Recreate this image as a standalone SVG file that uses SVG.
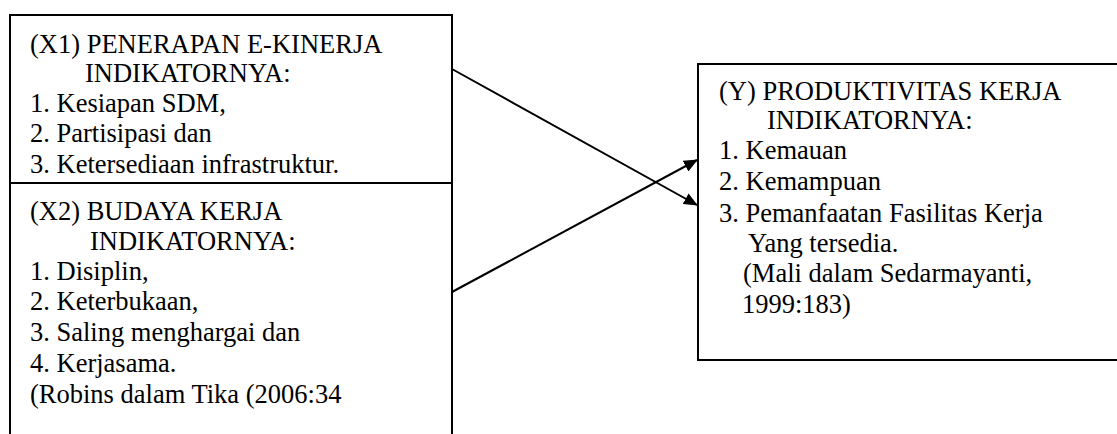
<svg xmlns="http://www.w3.org/2000/svg" width="1117" height="434" viewBox="0 0 1117 434">
<style>
.box{fill:#fff;stroke:#000;stroke-width:2}
.t{font-family:'Liberation Serif','Tinos','Times New Roman','DejaVu Serif',serif;font-size:26.5px;fill:#000}
.c{stroke:#000;stroke-width:2;fill:none}
</style>
<defs>
<marker id="ah" markerWidth="14" markerHeight="12" refX="13" refY="6" orient="auto" markerUnits="userSpaceOnUse">
<path d="M0,0 L14,6 L0,12 Z" fill="#000"/>
</marker>
</defs>
<rect width="1117" height="434" fill="#fff"/>
<g id="x1">
<rect class="box" x="10" y="15" width="442" height="168"/>
<text class="t" x="30" y="53">(X1) PENERAPAN E-KINERJA</text>
<text class="t" x="85" y="82">INDIKATORNYA:</text>
<text class="t" x="30" y="112">1. Kesiapan SDM,</text>
<text class="t" x="30" y="142">2. Partisipasi dan</text>
<text class="t" x="30" y="173">3. Ketersediaan infrastruktur.</text>
</g>
<g id="x2">
<path class="c" d="M10,440 V183 H452 V440"/>
<text class="t" x="30" y="220">(X2) BUDAYA KERJA</text>
<text class="t" x="90" y="250">INDIKATORNYA:</text>
<text class="t" x="30" y="280">1. Disiplin,</text>
<text class="t" x="30" y="310">2. Keterbukaan,</text>
<text class="t" x="30" y="341">3. Saling menghargai dan</text>
<text class="t" x="30" y="372">4. Kerjasama.</text>
<text class="t" x="30" y="403">(Robins dalam Tika (2006:34</text>
</g>
<g id="y">
<rect class="box" x="698" y="64" width="430" height="296"/>
<text class="t" x="719" y="100">(Y) PRODUKTIVITAS KERJA</text>
<text class="t" x="767" y="129">INDIKATORNYA:</text>
<text class="t" x="719" y="159">1. Kemauan</text>
<text class="t" x="719" y="190">2. Kemampuan</text>
<text class="t" x="719" y="222">3. Pemanfaatan Fasilitas Kerja</text>
<text class="t" x="748" y="252">Yang tersedia.</text>
<text class="t" x="743" y="282">(Mali dalam Sedarmayanti,</text>
<text class="t" x="742" y="313">1999:183)</text>
</g>
<g id="connectors">
<line class="c" x1="452" y1="69" x2="697" y2="205" marker-end="url(#ah)"/>
<line class="c" x1="452" y1="292" x2="697" y2="160" marker-end="url(#ah)"/>
</g>
</svg>
